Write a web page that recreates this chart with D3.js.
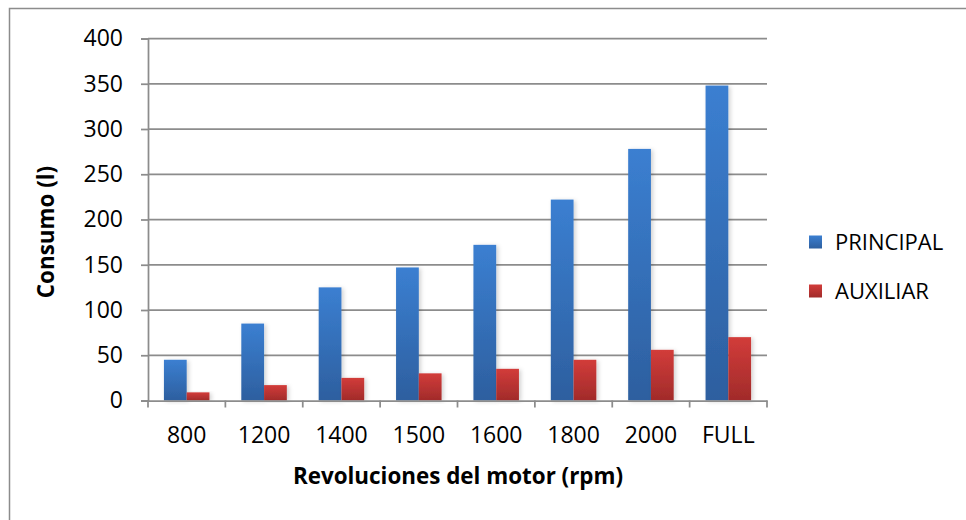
<!DOCTYPE html>
<html>
<head>
<meta charset="utf-8">
<script src="https://cdn.jsdelivr.net/npm/d3@7"></script>
<style>
  body { margin: 0; background: #fff; }
  text { font-family: "Open Sans", "Noto Sans", sans-serif; fill: #000; }
</style>
</head>
<body>
<svg id="chart" width="966" height="520"></svg>
<script>
// data
const categories = ["800", "1200", "1400", "1500", "1600", "1800", "2000", "FULL"];
const principal = [45, 85, 125, 147, 172, 222, 278, 348];
const auxiliar = [9, 17, 25, 30, 35, 45, 56, 70];
const seriesNames = ["PRINCIPAL", "AUXILIAR"];
const yTicks = [0, 50, 100, 150, 200, 250, 300, 350, 400];

const svg = d3.select("#chart");

// plot area
const plotLeft = 148, plotRight = 767, plotTop = 38.5, plotBottom = 400.5;

// gradients + shadow
const defs = svg.append("defs");
function grad(id, c1, c2) {
  let g = defs.append("linearGradient").attr("id", id)
    .attr("x1", 0).attr("y1", 0).attr("x2", 0).attr("y2", 1);
  g.append("stop").attr("offset", "0%").attr("stop-color", c1);
  g.append("stop").attr("offset", "100%").attr("stop-color", c2);
}
grad("gBlue", "#3b7fd1", "#2d5f9f");
grad("gRed", "#d23c3a", "#a12b2a");
const f = defs.append("filter").attr("id", "shadow")
  .attr("x", "-30%").attr("y", "-10%").attr("width", "160%").attr("height", "120%");
f.append("feDropShadow").attr("dx", 2).attr("dy", 1).attr("stdDeviation", 2)
  .attr("flood-color", "#000").attr("flood-opacity", 0.18);

// outer frame
svg.append("rect").attr("x", 9.5).attr("y", 8.5).attr("width", 980).attr("height", 540)
  .attr("fill", "none").attr("stroke", "#8c8c8c").attr("stroke-width", 1.5);

const x = d3.scaleBand().domain(categories).range([plotLeft, plotRight]).paddingInner(0).paddingOuter(0);
const x1 = d3.scaleBand().domain(seriesNames).range([0, x.bandwidth()]).paddingInner(0).paddingOuter(0.7);
const y = d3.scaleLinear().domain([0, 400]).range([plotBottom, plotTop]);

// gridlines
svg.append("g").selectAll("line").data(yTicks.slice(1)).enter().append("line")
  .attr("x1", plotLeft).attr("x2", plotRight)
  .attr("y1", d => y(d)).attr("y2", d => y(d))
  .attr("stroke", "#8c8c8c").attr("stroke-width", 1.75);

// y axis
const yAxis = svg.append("g").attr("transform", `translate(${plotLeft},0)`)
  .call(d3.axisLeft(y).tickValues(yTicks).tickSize(7).tickPadding(18));
yAxis.select(".domain").attr("stroke", "#8c8c8c").attr("stroke-width", 1.75);
yAxis.selectAll(".tick line").attr("stroke", "#8c8c8c").attr("stroke-width", 1.75);
yAxis.selectAll("text").attr("font-size", 23).attr("font-family", null).attr("fill", "#000");

// bars
const groups = svg.append("g").selectAll("g").data(categories).enter().append("g")
  .attr("transform", d => `translate(${x(d)},0)`);
const seriesData = [principal, auxiliar];
const fills = ["url(#gBlue)", "url(#gRed)"];
groups.selectAll("rect")
  .data((d, i) => seriesNames.map((s, j) => ({ s: s, v: seriesData[j][i], j: j })))
  .enter().append("rect")
  .attr("x", d => x1(d.s))
  .attr("width", x1.bandwidth())
  .attr("y", d => y(d.v))
  .attr("height", d => plotBottom - y(d.v))
  .attr("fill", d => fills[d.j])
  .attr("filter", "url(#shadow)");

// x axis
const xAxis = svg.append("g").attr("transform", `translate(0,${plotBottom})`)
  .call(d3.axisBottom(x).tickSize(0).tickPadding(26));
xAxis.select(".domain").attr("stroke", "#8c8c8c").attr("stroke-width", 1.75);
xAxis.selectAll("text").attr("font-size", 23).attr("font-family", null).attr("fill", "#000");
// tick marks between categories
const bounds = categories.map(c => x(c)).concat([plotRight]);
xAxis.selectAll(".bound").data(bounds).enter().append("line")
  .attr("x1", d => d).attr("x2", d => d).attr("y1", 0).attr("y2", 7)
  .attr("stroke", "#8c8c8c").attr("stroke-width", 1.75);

// axis titles
svg.append("text").attr("x", 458).attr("y", 484).attr("text-anchor", "middle")
  .attr("font-size", 22.4).attr("font-weight", "bold").text("Revoluciones del motor (rpm)");
svg.append("text").attr("transform", "translate(54,232) rotate(-90)").attr("text-anchor", "middle")
  .attr("font-size", 22.4).attr("font-weight", "bold").text("Consumo (l)");

// legend
const legend = svg.append("g").selectAll("g").data(seriesNames).enter().append("g")
  .attr("transform", (d, i) => `translate(809,${242 + i * 49})`);
legend.append("rect").attr("x", 0).attr("y", -6.5).attr("width", 13).attr("height", 13)
  .attr("fill", (d, i) => fills[i]);
legend.append("text").attr("x", 26).attr("dy", "0.36em").attr("font-size", 22).text(d => d);
</script>
</body>
</html>
